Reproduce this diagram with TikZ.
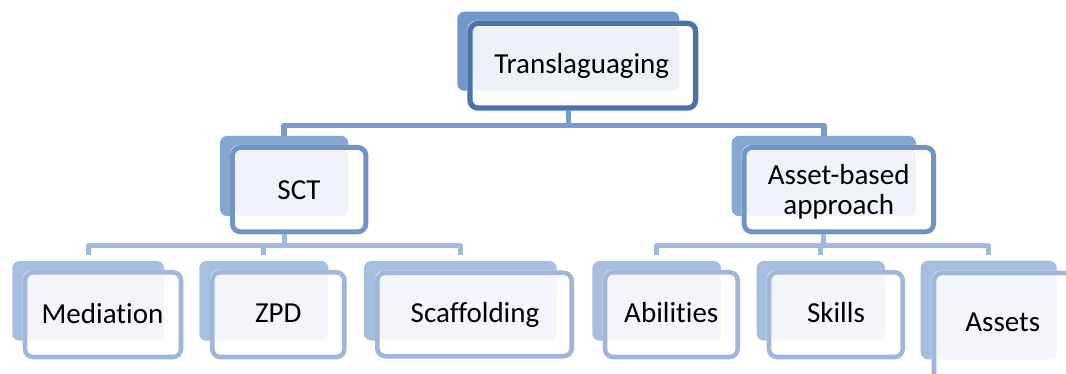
\documentclass[tikz,border=0pt]{standalone}
\usepackage{fontspec}
\setmainfont{Carlito}[Ligatures={NoCommon}]
\pgfdeclarelayer{bg}
\pgfsetlayers{bg,main}
\definecolor{bkA}{RGB}{112,152,202}
\definecolor{bdA}{RGB}{74,115,172}
\definecolor{ltA}{RGB}{238,242,248}
\definecolor{bkB}{RGB}{133,167,209}
\definecolor{bdB}{RGB}{113,148,196}
\definecolor{ltB}{RGB}{240,243,249}
\definecolor{bkC}{RGB}{167,191,223}
\definecolor{bdC}{RGB}{161,182,216}
\definecolor{ltC}{RGB}{244,246,251}
\definecolor{cnA}{RGB}{122,154,202}
\definecolor{cnB}{RGB}{163,184,218}
\tikzset{
  lvlone/.style={ubk/.style={fill=bkA}, ubd/.style={draw=bdA}, ult/.style={fill=ltA}},
  lvltwo/.style={ubk/.style={fill=bkB}, ubd/.style={draw=bdB}, ult/.style={fill=ltB}},
  lvlthree/.style={ubk/.style={fill=bkC}, ubd/.style={draw=bdC}, ult/.style={fill=ltC}},
  backbox/.style={rounded corners=7pt, inner sep=0pt, outer sep=0pt},
  whitefill/.style={fill=white, rounded corners=9pt},
  lightfill/.style={rounded corners=6pt},
  frontline/.style={rounded corners=8pt},
  connA/.style={draw=cnA, line width=5.4pt, line join=round},
  connB/.style={draw=cnB, line width=5pt, line join=round, shorten >=6pt},
  lbl/.style={anchor=base, inner sep=0pt, text=black, font=\fontsize{29}{30}\selectfont},
}
% name, back x0,y0,x1,y1, front (outer) x0,y0,x1,y1
\newcommand\boxunit[9]{%
  \node[backbox, ubk, minimum width={#4-#2}, minimum height={#5-#3}] (#1) at ({(#2+#4)/2},{(#3+#5)/2}) {};
  \fill[whitefill] (#6,#7) rectangle (#8,#9);
  \fill[lightfill, ult] ({#6+\ulw},{#7+\ulw}) rectangle (#4,#5);
  \draw[frontline, ubd, line width=\ulw pt] ({#6+\ulw/2},{#7+\ulw/2}) rectangle ({#8-\ulw/2},{#9-\ulw/2});
}
\begin{document}
\begin{tikzpicture}[x=1pt, y=-1pt]
\useasboundingbox (0,0) rectangle (1066,374);
\clip (0,0) rectangle (1066,374);

\begin{scope}[lvlone]\def\ulw{5.3}
  \boxunit{top}{457.3}{11.7}{679.3}{90.7}{467.3}{20.7}{698.3}{110.7}
\end{scope}
\begin{scope}[lvltwo]\def\ulw{4.9}
  \boxunit{sct}{220}{136}{348.3}{216}{230}{145}{368.3}{234.3}
  \boxunit{asset}{731.7}{136}{916}{216}{741.7}{145}{936}{234.3}
\end{scope}
\begin{scope}[lvlthree]\def\ulw{4.6}
  \boxunit{med}{12.3}{261}{164}{340.7}{22.7}{270}{183.3}{359.3}
  \boxunit{zpd}{199.3}{261}{328.3}{340.7}{210}{270}{346.7}{359.3}
  \boxunit{scaf}{364}{261}{556.7}{340.5}{375}{270.5}{574}{358.5}
  \boxunit{abil}{592.3}{261}{721}{340.7}{602.7}{270}{740}{359.3}
  \boxunit{skill}{756.7}{261}{885}{340.7}{766.7}{270}{905}{359.3}
  \boxunit{assets}{920.7}{260.7}{1056.7}{359.3}{931.7}{270.7}{1085}{392}
\end{scope}

\node[lbl] (top-t) at (581.7,74) {Translaguaging};
\node[lbl] (sct-t) at (299,199.3) {SCT};
\node[lbl, anchor=center, align=center] (asset-t) at (838.7,191.5) {Asset-based\\approach};
\node[lbl] (med-t) at (102.5,323.3) {Mediation};
\node[lbl] (zpd-t) at (278.3,323) {ZPD};
\node[lbl] (scaf-t) at (475,322.7) {Scaffolding};
\node[lbl] (abil-t) at (671.3,322.7) {Abilities};
\node[lbl] (skill-t) at (836,323) {Skills};
\node[lbl] (assets-t) at (1002.8,331.7) {Assets};

\begin{pgfonlayer}{bg}
  \coordinate (busA) at (top.south |- 0,125.4);
  \draw[connA] (top.south) -- (busA) -| (sct.north);
  \draw[connA] (busA) -| (asset.north);
  \coordinate (busB) at (sct.south |- 0,246);
  \draw[connB] (sct.south) -- (busB) -| (med.north);
  \draw[connB] (busB) -| (zpd.north);
  \draw[connB] (busB) -| (scaf.north);
  \coordinate (busC) at (asset.south |- 0,246);
  \draw[connB] (asset.south) -- (busC) -| (abil.north);
  \draw[connB] (busC) -| (skill.north);
  \draw[connB] (busC) -| (assets.north);
\end{pgfonlayer}
\end{tikzpicture}
\end{document}
